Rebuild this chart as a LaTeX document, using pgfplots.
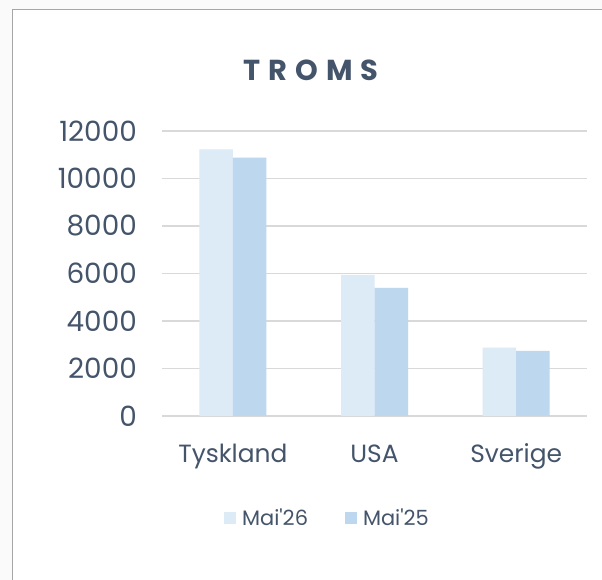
\documentclass[border=0pt]{standalone}
\usepackage{fontspec}
\setmainfont{Poppins}
\usepackage{pgfplots}
\pgfplotsset{compat=1.18}
\definecolor{txt}{HTML}{44546A}
\definecolor{barA}{HTML}{DDEBF7}
\definecolor{barB}{HTML}{BDD7EE}
\definecolor{gridc}{HTML}{D9D9D9}
\definecolor{framec}{HTML}{A6A6A6}
\definecolor{outer}{HTML}{FAFAFA}
\begin{document}
\begin{tikzpicture}
\useasboundingbox (0bp,0bp) rectangle (602bp,580bp);
\fill[outer] (0bp,0bp) rectangle (602bp,580bp);
\begin{scope}
\clip (0bp,0bp) rectangle (602bp,580bp);
\fill[white] (12.5bp,-5bp) rectangle (610bp,570.5bp);
\draw[framec, line width=1.2bp] (12.5bp,-5bp) -- (12.5bp,570.5bp) -- (610bp,570.5bp);
\end{scope}
\node[anchor=base, text=txt, inner sep=0pt, font=\fontsize{29}{34}\selectfont\bfseries\addfontfeatures{LetterSpace=28}] at (311bp,499.3bp) {TROMS};
\begin{axis}[
  at={(162bp,164bp)}, anchor=south west,
  scale only axis, width=425bp, height=285bp,
  xmin=-0.5, xmax=2.5, ymin=0, ymax=12000,
  ybar=0pt, bar width=33.5bp,
  axis line style={draw=none},
  major tick length=0pt,
  xtick={0,1,2}, xticklabels={Tyskland,USA,Sverige},
  ytick={0,2000,4000,6000,8000,10000,12000},
  scaled y ticks=false,
  /pgf/number format/assume math mode=true,
  /pgf/number format/set thousands separator={},
  ymajorgrids, grid style={gridc, line width=1.3bp},
  tick label style={text=txt, font=\fontsize{28}{32}\selectfont},
  yticklabel style={anchor=east, inner sep=0pt, xshift=-25bp},
  xticklabel style={anchor=base, inner sep=0pt, yshift=-46bp, font=\fontsize{25}{30}\selectfont},
  legend style={at={(0.387,-0.358)}, anchor=center, draw=none, fill=none,
    legend columns=2, text=txt, font=\fontsize{21}{24}\selectfont,
    nodes={inner xsep=0pt},
    /tikz/every odd column/.append style={column sep=6bp},
    /tikz/every even column/.append style={column sep=37bp}},
  legend image code/.code={\fill[#1] (0bp,-6bp) rectangle (12bp,6bp);},
]
\addplot[fill=barA, draw=none] coordinates {(0,11230) (1,5940) (2,2880)};
\addplot[fill=barB, draw=none] coordinates {(0,10880) (1,5390) (2,2740)};
\legend{Mai\textquotesingle 26, Mai\textquotesingle 25}
\end{axis}
\end{tikzpicture}
\end{document}
